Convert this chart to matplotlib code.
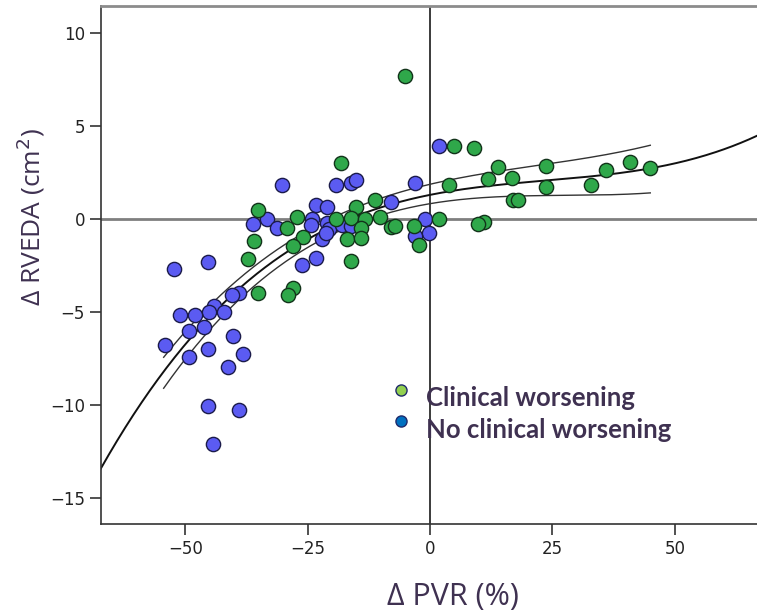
import numpy as np
import matplotlib
matplotlib.use('Agg')
import matplotlib.pyplot as plt

# Change in PVR (%) and change in RVEDA (cm2)
cw_pvr = [-5.1, 4.9, 8.9, -18.1, 13.9, 23.8, 40.8, 35.9, 44.9, 11.9, 16.8, 3.8,
          23.8, 32.9, 17.0, 17.9, -11.2, -15.1, -35.2, -27.2, -19.1, -16.2, -13.2,
          -10.2, 1.9, 11.1, 9.8, -29.2, -8.0, -7.1, -3.2, -14.1, -26.0, -17.0,
          -14.1, -36.0, -28.0, -2.2, -37.2, -16.2, -35.2, -28.0, -29.1]
cw_rveda = [7.70, 3.91, 3.82, 3.02, 2.77, 2.86, 3.04, 2.62, 2.73, 2.13, 2.22, 1.81,
            1.72, 1.83, 1.01, 1.01, 1.01, 0.63, 0.49, 0.12, 0.0, 0.03, 0.02,
            0.10, 0.02, -0.16, -0.27, -0.51, -0.45, -0.37, -0.38, -0.51, -0.99, -1.08,
            -1.0, -1.18, -1.48, -1.41, -2.17, -2.28, -3.98, -3.69, -4.10]

ncw_pvr = [1.9, -30.2, -19.1, -16.1, -15.1, -3.1, -23.2, -21.1, -8.0, -36.2, -33.2,
           -31.2, -24.1, -24.3, -21.1, -20.6, -22.1, -21.2, -18.0, -16.2, -1.0, -0.1,
           -3.1, -23.2, -26.1, -45.3, -52.2, -39.1, -40.4, -44.1, -45.1, -42.1, -51.1,
           -48.1, -49.2, -46.2, -54.2, -40.2, -49.2, -45.3, -38.1, -41.2, -45.3, -39.1,
           -44.3]
ncw_rveda = [3.93, 1.82, 1.82, 1.91, 2.11, 1.91, 0.73, 0.63, 0.92, -0.29, 0.02,
             -0.48, -0.01, -0.30, -0.21, -0.54, -1.10, -0.76, -0.31, -0.40, 0.02, -0.78,
             -0.90, -2.08, -2.47, -2.30, -2.69, -3.98, -4.10, -4.70, -5.01, -5.01, -5.19,
             -5.19, -6.0, -5.82, -6.78, -6.31, -7.40, -7.0, -7.27, -7.96, -10.07, -10.29,
             -12.10]

# cubic fit line and its 95% CI
fit_x = [-67.3, -54.4, -40.8, -27.2, -13.6, 0.0, 22.5, 45.9, 55.1, 66.8]
fit_y = [-13.4, -8.2, -4.4, -1.31, 0.38, 1.3, 2.0, 2.74, 3.32, 4.5]
ci_x = [-54.4, -40.8, -27.2, -13.6, 0.0, 11.0, 22.5, 45.0]
ci_upper = [-7.37, -3.8, -0.86, 0.8, 1.86, 2.45, 2.85, 3.98]
ci_lower = [-9.01, -5.0, -1.85, 0.0, 0.88, 1.08, 1.20, 1.43]

legend_labels = ['Clinical worsening', 'No clinical worsening']
xticks = [-50, -25, 0, 25, 50]
yticks = [-15, -10, -5, 0, 5, 10]

W, H = 757, 614
fig = plt.figure(figsize=(W / 100, H / 100), dpi=100, facecolor='w')
ax = fig.add_axes([101 / W, 1 - 524 / H, (W - 101) / W, (524 - 6) / H])
ax.set_xlim(-67.2, 66.8)
ax.set_ylim(-16.4, 11.45)

# reference lines
ax.axhline(0, color='#7f7f7f', lw=2, zorder=1)
ax.axvline(0, color='#1a1a1a', lw=1.2, zorder=1)

# smooth the read curves with a cubic, as in the original fit
xf = np.linspace(min(fit_x), max(fit_x), 400)
ax.plot(xf, np.polyval(np.polyfit(fit_x, fit_y, 3), xf), color='#111111', lw=1.4, zorder=2)
xc = np.linspace(min(ci_x), max(ci_x), 300)
ax.plot(xc, np.polyval(np.polyfit(ci_x, ci_upper, 3), xc), color='#333333', lw=1.0, zorder=2)
ax.plot(xc, np.polyval(np.polyfit(ci_x, ci_lower, 3), xc), color='#333333', lw=1.0, zorder=2)

ax.scatter(ncw_pvr, ncw_rveda, s=105, c='#5b5bf2', edgecolors='#1b1b4a', linewidths=1.0, zorder=3)
ax.scatter(cw_pvr, cw_rveda, s=105, c='#2fa84a', edgecolors='#12331a', linewidths=1.0, zorder=3)

# legend drawn by hand
for i, (lab, fc) in enumerate(zip(legend_labels, ['#92d050', '#0070c0'])):
    fig.add_artist(plt.Line2D([401 / W], [1 - (390 + 31 * i) / H], marker='o', ms=8,
                              mfc=fc, mec='#1f2a6b', mew=1.0, transform=fig.transFigure))
    fig.text(426 / W, 1 - (406.5 + 31 * i) / H, lab, fontsize=18.5, fontweight='bold',
             family=['Lato', 'DejaVu Sans'], color='#3f3151', va='baseline', ha='left')

ax.set_xticks(xticks)
ax.set_yticks(yticks)
ax.set_xticklabels(['\u2212' + str(-v) if v < 0 else str(v) for v in xticks],
                   family=['Liberation Sans Narrow', 'DejaVu Sans'], fontsize=12)
ax.set_yticklabels(['\u2212' + str(-v) if v < 0 else str(v) for v in yticks],
                   family=['Liberation Sans Narrow', 'DejaVu Sans'], fontsize=12)
ax.tick_params(direction='out', length=8, width=1.2, color='#333333', labelcolor='#222222')

ax.spines['right'].set_visible(False)
ax.spines['top'].set_color('#8c8c8c')
ax.spines['top'].set_linewidth(2)
for sp in ('left', 'bottom'):
    ax.spines[sp].set_color('#333333')
    ax.spines[sp].set_linewidth(1.2)

fig.text(453 / W, 1 - 597 / H, '\u0394 PVR (%)', fontsize=22, family=['Open Sans', 'DejaVu Sans'],
         color='#3f3151', ha='center', va='center')
fig.text(30.5 / W, 1 - 217 / H, '\u0394 RVEDA (cm$^2$)', fontsize=19, family=['Open Sans', 'DejaVu Sans'],
         color='#3f3151', ha='center', va='center', rotation=90)

fig.savefig('out.png', dpi=100)
